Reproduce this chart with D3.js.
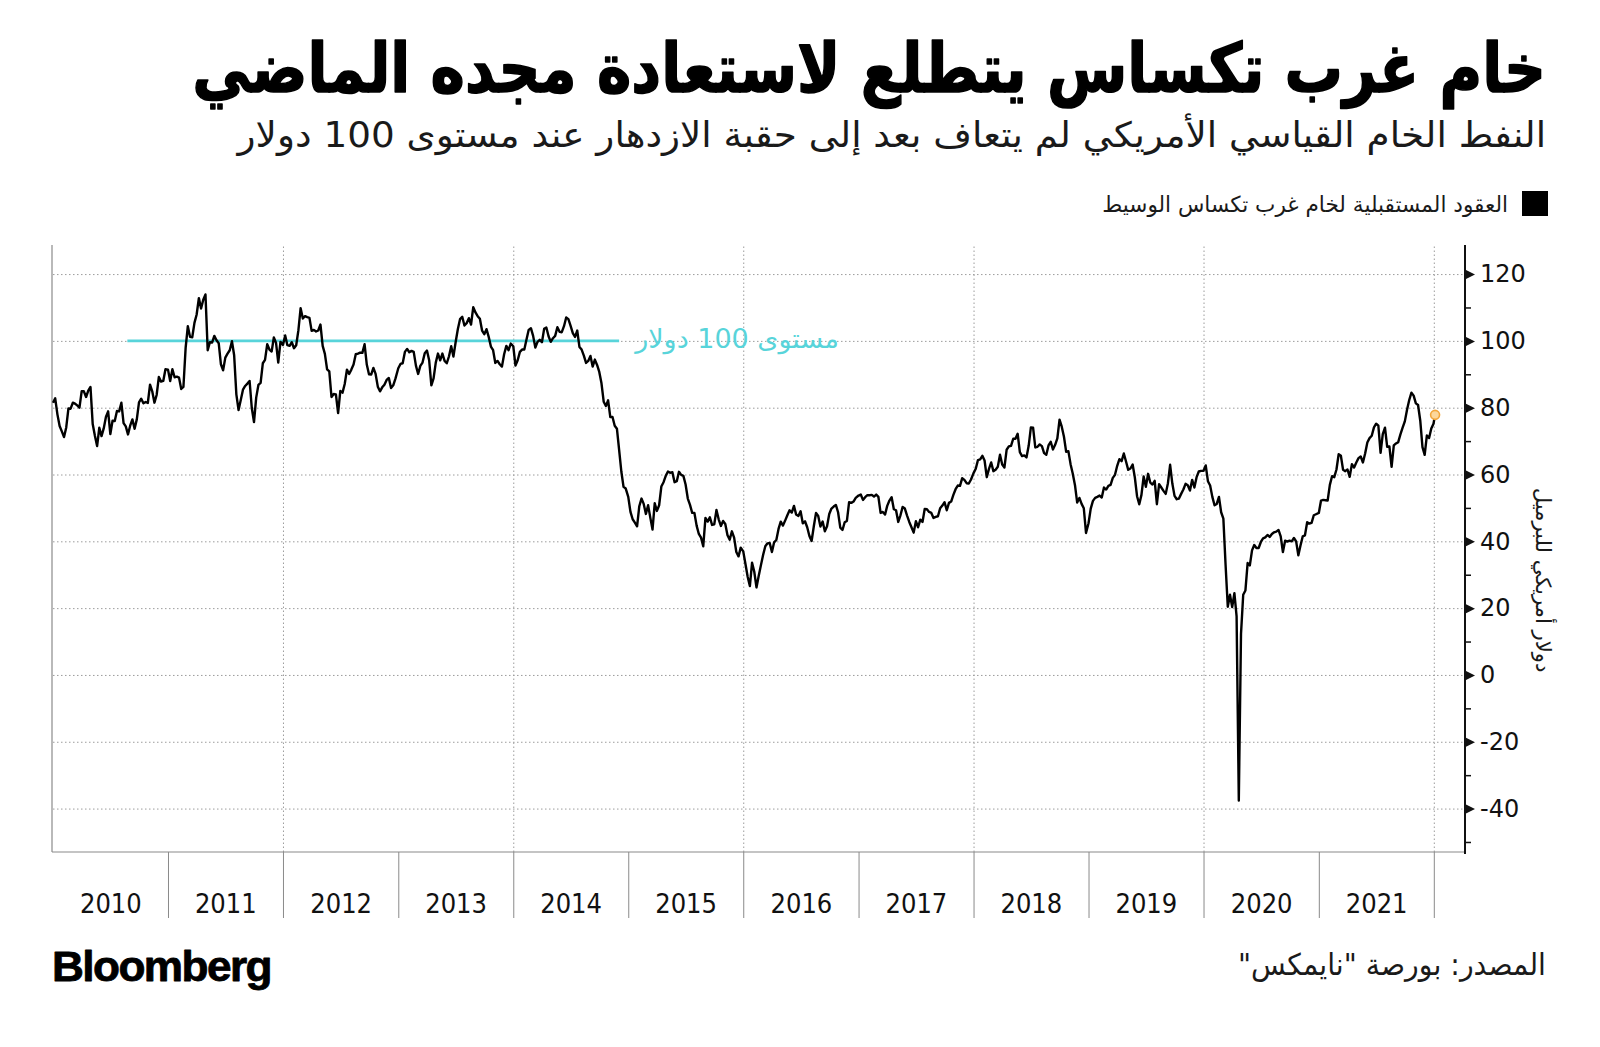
<!DOCTYPE html>
<html>
<head>
<meta charset="utf-8">
<script src="https://cdn.jsdelivr.net/npm/d3@7"></script>
<style>
  html, body { margin: 0; padding: 0; background: #fff; }
  svg { display: block; }
</style>
</head>
<body>
<svg id="chart" width="1600" height="1047"></svg>
<script>
// WTI front-month closes, one value per week from 1 Jan of each year
var wti2010 = [81.5, 82.8, 78.0, 74.5, 72.9, 71.2, 74.1, 79.8, 79.7, 81.5, 81.2, 80.7, 80.0, 84.9, 84.9, 83.2, 85.1, 86.2, 75.1, 71.6, 68.5, 74.0, 71.5, 73.8, 77.2, 78.9, 72.1, 76.1, 76.0, 79.0, 78.9, 81.5, 75.4, 74.4, 72.0, 74.6, 76.5, 73.7, 76.5, 81.6, 82.7, 81.3, 81.7, 81.4, 86.9, 84.9, 81.5, 83.8, 89.2, 87.8, 88.0, 91.5];
var wti2011 = [91.4, 88.0, 91.5, 89.1, 89.3, 89.0, 85.6, 86.2, 97.9, 104.4, 101.2, 101.1, 105.4, 107.9, 112.8, 109.7, 112.3, 113.9, 97.2, 99.6, 99.5, 101.5, 100.2, 99.3, 93.0, 91.2, 95.0, 96.2, 97.2, 99.9, 95.7, 84.0, 79.3, 82.3, 85.4, 86.5, 87.2, 88.0, 79.9, 75.7, 83.0, 86.8, 87.4, 93.3, 94.3, 99.0, 97.4, 96.8, 101.0, 99.4, 93.5, 99.7];
var wti2012 = [98.8, 101.6, 98.7, 98.5, 99.6, 97.8, 98.7, 103.2, 109.8, 106.7, 107.4, 107.1, 106.9, 103.0, 103.3, 102.8, 103.1, 104.9, 98.5, 96.1, 91.5, 90.9, 83.2, 84.1, 84.0, 78.4, 85.0, 84.5, 87.1, 91.4, 90.1, 91.4, 92.9, 96.0, 96.2, 96.5, 96.4, 99.0, 92.9, 90.0, 89.9, 91.9, 90.1, 86.3, 84.9, 86.1, 86.9, 88.3, 88.9, 85.9, 86.7, 88.7];
var wti2013 = [91.8, 93.1, 93.3, 96.7, 97.6, 96.6, 97.0, 96.7, 92.6, 90.1, 92.5, 93.5, 96.3, 97.1, 94.2, 86.7, 88.8, 93.5, 96.2, 94.2, 96.2, 94.0, 93.3, 95.4, 98.4, 95.3, 99.6, 103.5, 106.5, 107.2, 104.6, 105.3, 106.8, 104.9, 110.1, 108.5, 107.4, 106.6, 103.1, 102.0, 103.5, 101.2, 98.3, 97.2, 93.4, 94.0, 93.0, 92.3, 96.0, 98.5, 97.2, 99.2];
var wti2014 = [98.4, 92.6, 94.2, 96.7, 97.4, 97.4, 100.4, 103.3, 103.8, 101.5, 98.0, 99.7, 100.3, 99.6, 103.6, 104.0, 101.4, 99.7, 100.8, 101.5, 104.1, 102.7, 102.6, 104.4, 107.0, 106.5, 104.5, 102.3, 101.2, 103.1, 98.2, 97.4, 95.6, 93.4, 94.0, 95.5, 92.3, 94.4, 92.8, 90.7, 87.3, 81.8, 80.5, 82.2, 77.2, 77.2, 74.6, 73.7, 67.4, 60.9, 56.3, 55.8];
var wti2015 = [53.3, 48.8, 46.6, 45.6, 44.5, 50.5, 52.8, 51.2, 48.2, 50.8, 47.1, 43.5, 51.4, 49.1, 50.8, 56.4, 57.7, 59.6, 60.9, 60.5, 60.7, 57.7, 58.0, 60.8, 59.9, 59.6, 57.0, 52.8, 50.9, 48.5, 48.5, 44.7, 42.2, 41.1, 38.5, 47.0, 45.9, 47.2, 44.9, 45.1, 49.4, 46.6, 44.6, 46.1, 45.2, 41.8, 40.5, 43.0, 41.1, 36.8, 35.5, 38.1];
var wti2016 = [37.0, 33.2, 29.4, 26.6, 33.6, 30.9, 26.2, 29.6, 32.8, 35.9, 38.5, 39.4, 39.5, 36.8, 39.7, 40.4, 43.7, 45.9, 44.7, 46.2, 47.8, 49.3, 48.6, 50.6, 48.0, 47.6, 49.0, 45.4, 46.0, 44.2, 41.6, 40.1, 44.5, 48.5, 47.6, 44.4, 45.9, 43.0, 44.5, 48.2, 49.8, 50.4, 50.9, 48.7, 44.1, 43.4, 45.7, 46.1, 51.7, 51.5, 51.9, 53.0];
var wti2017 = [53.7, 54.0, 52.4, 53.2, 53.8, 53.8, 53.9, 53.4, 54.0, 53.3, 48.5, 48.8, 48.0, 50.6, 52.2, 53.2, 49.6, 49.3, 45.8, 47.8, 50.3, 49.8, 47.7, 45.8, 44.2, 42.6, 46.0, 44.2, 46.5, 45.8, 49.7, 49.6, 48.8, 48.5, 47.0, 47.3, 47.5, 49.9, 50.7, 51.7, 49.3, 51.5, 51.9, 53.9, 55.6, 56.7, 56.6, 58.9, 58.4, 57.4, 57.3, 58.5];
var wti2018 = [60.4, 61.7, 64.3, 64.5, 65.6, 64.2, 59.2, 61.7, 63.6, 61.0, 61.4, 62.3, 65.9, 63.0, 62.1, 67.4, 68.4, 68.6, 70.7, 70.7, 72.2, 66.7, 65.5, 65.7, 65.1, 68.6, 74.1, 74.0, 68.1, 68.3, 69.0, 68.5, 66.4, 65.9, 68.7, 69.8, 67.5, 68.9, 70.8, 76.4, 74.3, 71.3, 66.8, 67.0, 63.1, 60.2, 56.8, 51.6, 53.0, 51.2, 49.9, 42.5];
var wti2019 = [45.4, 49.8, 52.1, 53.0, 53.3, 53.7, 53.1, 56.1, 55.5, 56.6, 56.9, 59.0, 59.9, 62.6, 64.6, 64.0, 66.3, 63.9, 61.4, 61.8, 63.0, 59.1, 53.5, 51.1, 53.9, 59.4, 56.3, 60.2, 57.6, 57.0, 58.1, 51.1, 57.1, 56.1, 55.1, 54.2, 57.4, 62.9, 57.3, 53.6, 52.6, 52.8, 54.2, 55.5, 57.2, 56.8, 55.2, 58.4, 56.1, 59.2, 60.9, 61.1];
var wti2020 = [61.1, 62.7, 58.0, 56.7, 53.3, 50.8, 51.2, 53.3, 48.7, 46.8, 33.0, 20.4, 24.0, 20.3, 24.5, 17.5, -37.6, 12.3, 24.0, 25.3, 33.5, 32.8, 37.3, 38.9, 38.0, 38.0, 39.8, 40.9, 41.2, 41.9, 41.3, 42.2, 42.7, 42.9, 43.4, 41.5, 36.8, 40.2, 39.9, 40.2, 40.0, 41.0, 40.0, 35.8, 38.8, 41.5, 41.8, 45.7, 45.3, 45.5, 47.8, 48.1];
var wti2021 = [48.5, 52.2, 52.4, 52.3, 52.2, 56.9, 59.5, 59.2, 61.5, 66.1, 65.6, 61.4, 61.0, 61.5, 59.3, 63.1, 62.1, 63.6, 64.9, 65.4, 63.6, 66.3, 69.6, 70.9, 71.6, 74.1, 75.2, 74.6, 66.5, 72.1, 74.0, 68.3, 68.4, 62.3, 68.7, 69.3, 69.7, 72.0, 74.0, 75.9, 79.4, 82.3, 84.5, 83.6, 81.3, 80.8, 76.1, 68.2, 65.9, 71.7, 70.9, 73.8];
var tailDates = ['2021-12-31', '2022-01-05'];
var tailCloses = [75.2, 77.85];

var yearList = [2010, 2011, 2012, 2013, 2014, 2015, 2016, 2017, 2018, 2019, 2020, 2021];
var yMajorTicks = [120, 100, 80, 60, 40, 20, 0, -20, -40];
var yMinorTicks = [110, 90, 70, 50, 30, 10, -10, -30, -50];
var refLevel = 100;
var refSpan = ['2010-08-25', '2014-12-03'];

var titleText = 'خام غرب تكساس يتطلع لاستعادة مجده الماضي';
var subtitleText = 'النفط الخام القياسي الأمريكي لم يتعاف بعد إلى حقبة الازدهار عند مستوى 100 دولار';
var legendText = 'العقود المستقبلية لخام غرب تكساس الوسيط';
var refText = 'مستوى 100 دولار';
var yTitleText = 'دولار أمريكي للبرميل';
var sourceText = 'المصدر: بورصة "نايمكس"';

var arabicFont = '"DejaVu Sans", sans-serif';
var refColor = '#58d4da';
var plot = {left: 53, right: 1465, top: 245, bottom: 852};

var parseDay = d3.timeParse('%Y-%m-%d');
var svg = d3.select('#chart');

var weekly = [wti2010, wti2011, wti2012, wti2013, wti2014, wti2015, wti2016, wti2017, wti2018, wti2019, wti2020, wti2021];
var points = [];
weekly.forEach(function(values, k) {
    values.forEach(function(v, i) {
        points.push({date: new Date(yearList[k], 0, 1 + 7 * i), close: v});
    });
});
tailDates.forEach(function(d, i) {
    points.push({date: parseDay(d), close: tailCloses[i]});
});

var x = d3.scaleTime()
    .domain([new Date(2010, 0, 1), new Date(2022, 3, 10)])
    .range([plot.left, plot.right]);
var y = d3.scaleLinear()
    .domain([-53, 128.7])
    .range([plot.bottom, plot.top]);

// dotted grid
svg.append('g')
    .attr('transform', 'translate(' + plot.left + ',0)')
    .call(d3.axisRight(y).tickValues(yMajorTicks).tickSize(plot.right - plot.left).tickFormat(''))
    .call(function(g) { g.select('.domain').remove(); })
    .selectAll('line')
        .attr('stroke', '#9c9c9c')
        .attr('stroke-dasharray', '1.5,2.5');

var gridYears = yearList.filter(function(yr) { return yr % 2 === 0 && yr > 2010; }).concat([2022]);
svg.append('g')
    .attr('transform', 'translate(0,' + plot.bottom + ')')
    .call(d3.axisBottom(x)
        .tickValues(gridYears.map(function(yr) { return new Date(yr, 0, 1); }))
        .tickSize(-(plot.bottom - plot.top)).tickFormat(''))
    .call(function(g) { g.select('.domain').remove(); })
    .selectAll('line')
        .attr('stroke', '#9c9c9c')
        .attr('stroke-dasharray', '1.5,2.5');

// frame
svg.append('line')
    .attr('x1', plot.left - 1).attr('x2', plot.left - 1)
    .attr('y1', plot.top).attr('y2', plot.bottom)
    .attr('stroke', '#8a8a8a').attr('stroke-width', 1.2);
svg.append('line')
    .attr('x1', plot.left - 1).attr('x2', plot.right)
    .attr('y1', plot.bottom).attr('y2', plot.bottom)
    .attr('stroke', '#8a8a8a').attr('stroke-width', 1.2);

// year separators and labels under the plot
svg.append('g')
    .attr('transform', 'translate(0,' + plot.bottom + ')')
    .call(d3.axisBottom(x)
        .tickValues(yearList.slice(1).concat([2022]).map(function(yr) { return new Date(yr, 0, 1); }))
        .tickSize(66).tickFormat(''))
    .call(function(g) { g.select('.domain').remove(); })
    .selectAll('line')
        .attr('stroke', '#8a8a8a');

svg.append('g')
    .attr('transform', 'translate(0,' + plot.bottom + ')')
    .call(d3.axisBottom(x)
        .tickValues(yearList.map(function(yr) { return new Date(yr, 6, 2); }))
        .tickSize(0).tickFormat(d3.timeFormat('%Y')))
    .call(function(g) { g.select('.domain').remove(); })
    .selectAll('text')
        .attr('y', 61)
        .attr('dy', null)
        .attr('fill', '#111')
        .style('font-family', '"DejaVu Sans Condensed", "DejaVu Sans", sans-serif')
        .style('font-stretch', 'condensed')
        .style('font-size', '27px');

// right value axis
svg.append('line')
    .attr('x1', plot.right).attr('x2', plot.right)
    .attr('y1', plot.top).attr('y2', plot.bottom + 2)
    .attr('stroke', '#111').attr('stroke-width', 2);

svg.append('g')
    .attr('transform', 'translate(' + plot.right + ',0)')
    .call(d3.axisRight(y).tickValues(yMinorTicks).tickSize(6).tickFormat(''))
    .call(function(g) { g.select('.domain').remove(); })
    .selectAll('line')
        .attr('stroke', '#111').attr('stroke-width', 1.5);

var valueAxis = svg.append('g')
    .attr('transform', 'translate(' + plot.right + ',0)')
    .call(d3.axisRight(y).tickValues(yMajorTicks).tickSize(0).tickPadding(15)
        .tickFormat(function(d) { return d < 0 ? '-' + Math.abs(d) : String(d); }))
    .call(function(g) { g.select('.domain').remove(); });
valueAxis.selectAll('text')
    .attr('fill', '#111')
    .style('font-family', '"DejaVu Sans", sans-serif')
    .style('font-size', '24px');
valueAxis.selectAll('.tick').append('path')
    .attr('d', 'M0,-5L10,0L0,5Z')
    .attr('fill', '#111');

// 100 dollar reference
svg.append('line')
    .attr('x1', x(parseDay(refSpan[0]))).attr('x2', x(parseDay(refSpan[1])))
    .attr('y1', y(refLevel)).attr('y2', y(refLevel))
    .attr('stroke', refColor).attr('stroke-width', 2.6);

// price line
var priceLine = d3.line()
    .x(function(d) { return x(d.date); })
    .y(function(d) { return y(d.close); });

svg.append('path')
    .datum(points)
    .attr('d', priceLine)
    .attr('fill', 'none')
    .attr('stroke', '#000')
    .attr('stroke-width', 2.4)
    .attr('stroke-linejoin', 'round');

var last = points[points.length - 1];
svg.append('circle')
    .attr('cx', x(last.date)).attr('cy', y(last.close))
    .attr('r', 4.5)
    .attr('fill', '#fcd79b')
    .attr('stroke', '#f2a63c')
    .attr('stroke-width', 1.6);

// text blocks are stretched to the width they take in the original
function placeText(str, opts) {
    var g = svg.append('g');
    var t = g.append('text')
        .attr('x', 0).attr('y', 0)
        .attr('direction', opts.rtl ? 'rtl' : 'ltr')
        .attr('fill', opts.color || '#111')
        .style('font-family', opts.font || arabicFont)
        .style('font-weight', opts.weight || 'normal')
        .style('font-size', opts.size + 'px')
        .style('letter-spacing', opts.spacing || null)
        .text(str);
    if (opts.stroke) {
        t.attr('stroke', opts.color).attr('stroke-width', opts.stroke).attr('stroke-linejoin', 'round');
    }
    var box = t.node().getBBox();
    var s = opts.width / box.width;
    var tx = opts.left !== undefined ? opts.left - box.x * s : opts.right - (box.x + box.width) * s;
    g.attr('transform', 'translate(' + tx + ',' + opts.baseline + ') scale(' + s + ',1)');
    return g;
}

placeText(titleText, {rtl: true, weight: 'bold', size: 68, stroke: 1.6, color: '#000', right: 1546, width: 1354, baseline: 92});
placeText(subtitleText, {rtl: true, size: 35, color: '#1a1a1a', right: 1546, width: 1311, baseline: 147});
placeText(legendText, {rtl: true, size: 22, color: '#1a1a1a', right: 1508, width: 406, baseline: 212});
placeText(refText, {rtl: true, size: 26, color: refColor, right: 839, width: 206, baseline: 348});
placeText(sourceText, {rtl: true, size: 30, color: '#1a1a1a', right: 1546, width: 308, baseline: 975});
placeText('Bloomberg', {font: '"Liberation Sans", Arial, sans-serif', weight: 'bold', size: 42, spacing: '-1.5px',
    stroke: 0.8, color: '#000', left: 52, width: 219, baseline: 981});

svg.append('rect')
    .attr('x', 1522).attr('y', 191)
    .attr('width', 26).attr('height', 25)
    .attr('fill', '#000');

// rotated unit title on the right
var yTitle = svg.append('g');
var yTitleNode = yTitle.append('text')
    .attr('direction', 'rtl')
    .attr('fill', '#1a1a1a')
    .style('font-family', arabicFont)
    .style('font-size', '21px')
    .text(yTitleText);
var yb = yTitleNode.node().getBBox();
yTitleNode
    .attr('x', -(yb.x + yb.width / 2))
    .attr('y', -(yb.y + yb.height / 2));
yTitle.attr('transform', 'translate(1544,580) rotate(90) scale(' + (185 / yb.width) + ',1)');
</script>
</body>
</html>
